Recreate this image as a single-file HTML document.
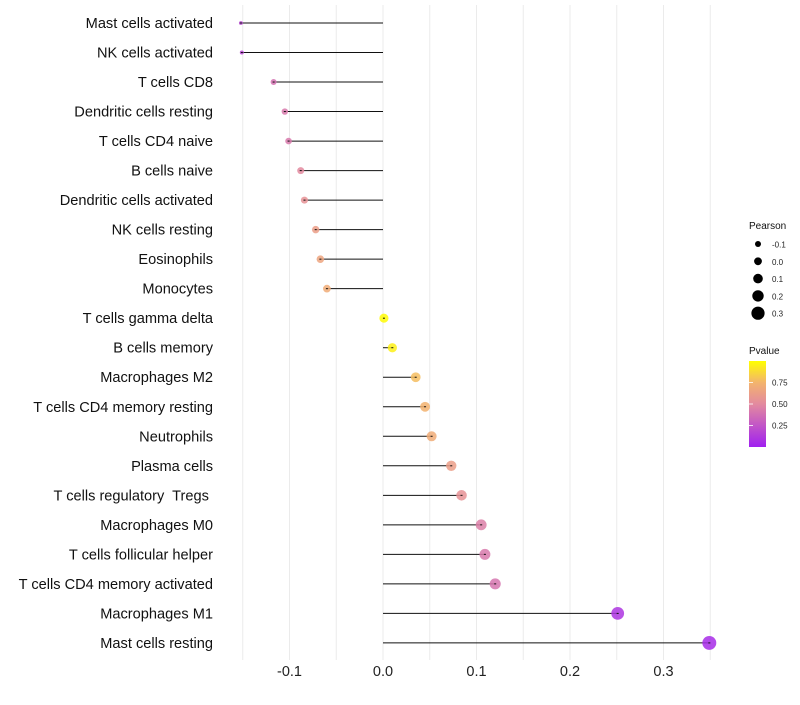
<!DOCTYPE html>
<html><head><meta charset="utf-8"><style>
body{margin:0;background:#fff;font-family:"Liberation Sans",sans-serif}
text{white-space:pre}
</style></head><body>
<svg id="c" width="800" height="700" xmlns="http://www.w3.org/2000/svg">
<defs><linearGradient id="pg" x1="0" y1="1" x2="0" y2="0">
<stop offset="0" stop-color="#a020f0"/><stop offset="0.5" stop-color="#e38a9f"/><stop offset="0.75" stop-color="#f3b46d"/><stop offset="1" stop-color="#ffff00"/></linearGradient></defs>
</svg>
<script>
const categories=["Mast cells activated","NK cells activated","T cells CD8","Dendritic cells resting","T cells CD4 naive","B cells naive","Dendritic cells activated","NK cells resting","Eosinophils","Monocytes","T cells gamma delta","B cells memory","Macrophages M2","T cells CD4 memory resting","Neutrophils","Plasma cells","T cells regulatory  Tregs ","Macrophages M0","T cells follicular helper","T cells CD4 memory activated","Macrophages M1","Mast cells resting"];
const pearson=[-0.152,-0.151,-0.117,-0.105,-0.101,-0.088,-0.084,-0.072,-0.067,-0.060,0.001,0.010,0.035,0.045,0.052,0.073,0.084,0.105,0.109,0.120,0.251,0.349];
const pvalue=[0.18,0.18,0.38,0.42,0.42,0.5,0.55,0.62,0.66,0.7,0.99,0.95,0.78,0.74,0.7,0.62,0.55,0.45,0.42,0.4,0.1,0.05];
const xTicks=[-0.1,0,0.1,0.2,0.3];
const xTickLabels=["-0.1","0.0","0.1","0.2","0.3"];
const sizeLegend=[-0.1,0,0.1,0.2,0.3];
const sizeLegendLabels=["-0.1","0.0","0.1","0.2","0.3"];
const ns="http://www.w3.org/2000/svg",svg=document.getElementById('c');
const X=v=>383+v*935, Y=i=>23+i*29.52, R=v=>1.5+Math.sqrt(Math.max(v+0.155,0))*7.7;
function lerp(a,b,t){return a.map((x,k)=>Math.round(x+(b[k]-x)*t));}
function col(p){const st=[[0,[160,32,240]],[0.5,[227,138,159]],[0.75,[243,180,109]],[1,[255,255,0]]];
for(let k=0;k<st.length-1;k++){if(p<=st[k+1][0]){const c=lerp(st[k][1],st[k+1][1],(p-st[k][0])/(st[k+1][0]-st[k][0]));return `rgb(${c})`;}}return 'rgb(255,255,0)';}
function el(t,a,txt){const e=document.createElementNS(ns,t);for(const k in a)e.setAttribute(k,a[k]);if(txt!=null)e.textContent=txt;svg.appendChild(e);return e;}
for(let v=-0.15;v<=0.36;v+=0.05){const g=el('line',{x1:X(v),x2:X(v),y1:5,y2:660,stroke:'#ebebeb','stroke-width':1});

}
xTicks.forEach((v,i)=>{const t=el('text',{x:X(v),y:676,'text-anchor':'middle','font-size':14.5,fill:'#222'},xTickLabels[i]);

});
categories.forEach((c,i)=>{
const t=el('text',{x:213,y:Y(i)+5,'text-anchor':'end','font-size':14.6,fill:'#111'},c);


const l=el('line',{x1:X(0),x2:X(pearson[i]),y1:Y(i),y2:Y(i),stroke:'#111','stroke-width':1});


const d=el('circle',{cx:X(pearson[i]),cy:Y(i),r:R(pearson[i]),fill:col(pvalue[i]),'fill-opacity':0.85});


const m=el('line',{x1:X(pearson[i])-1,x2:X(pearson[i])+1,y1:Y(i),y2:Y(i),stroke:'#111','stroke-width':1});


});
const lt=el('text',{x:749,y:229,'font-size':10,fill:'#111'},'Pearson');


sizeLegend.forEach((v,i)=>{const y=244+i*17.3;
const c=el('circle',{cx:758,cy:y,r:3+(v+0.1)*9,fill:'#000'});


const t=el('text',{x:772,y:y+3.5,'font-size':8,fill:'#222'},sizeLegendLabels[i]);

});
const pt=el('text',{x:749,y:354,'font-size':10,fill:'#111'},'Pvalue');


const cb=el('rect',{x:749,y:361,width:17,height:86,fill:'url(#pg)'});


[[0.75,'0.75'],[0.5,'0.50'],[0.25,'0.25']].forEach(([v,s])=>{const y=447-v*86;
const tk=el('line',{x1:749,x2:753,y1:y,y2:y,stroke:'#fff','stroke-width':0.8});


const t=el('text',{x:772,y:y+3,'font-size':8,fill:'#222'},s);

});
</script>
</body></html>
